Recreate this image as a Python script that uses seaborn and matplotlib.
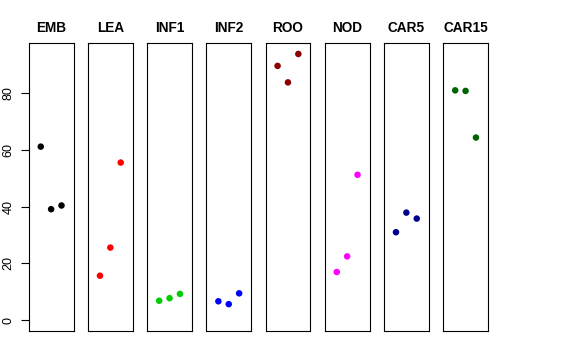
import numpy as np
import pandas as pd
import matplotlib
matplotlib.use('Agg')
import matplotlib.pyplot as plt
import seaborn as sns

# tissues and their three replicate values
tissues = ['EMB', 'LEA', 'INF1', 'INF2', 'ROO', 'NOD', 'CAR5', 'CAR15']
colors = ['black', 'red', '#00CD00', 'blue', '#8B0000', 'magenta', '#00008B', '#006400']
replicate = [1, 2, 3]

emb = [61.1, 39.1, 40.4]
lea = [15.7, 25.6, 55.5]
inf1 = [6.9, 7.8, 9.3]
inf2 = [6.7, 5.7, 9.5]
roo = [89.5, 83.7, 93.7]
nod = [17.0, 22.5, 51.2]
car5 = [31.0, 37.9, 35.8]
car15 = [80.9, 80.7, 64.3]

values = [emb, lea, inf1, inf2, roo, nod, car5, car15]

sns.set_style('white')
plt.rcParams['font.family'] = ['Liberation Sans', 'DejaVu Sans']
plt.rcParams['text.color'] = 'black'
plt.rcParams['ytick.color'] = 'black'
plt.rcParams['axes.labelcolor'] = 'black'

df = pd.DataFrame({
    'tissue': np.repeat(tissues, 3),
    'rep': replicate * len(tissues),
    'value': np.concatenate(values),
})

fig, axes = plt.subplots(1, 8, figsize=(5.76, 3.6), dpi=100, sharey=True)
fig.subplots_adjust(left=28.7 / 576, right=488 / 576, top=1 - 43.3 / 360,
                    bottom=1 - 331 / 360, wspace=0.32)

ymax = df['value'].max()
for ax, t, c in zip(axes, tissues, colors):
    sub = df[df['tissue'] == t]
    sns.scatterplot(data=sub, x='rep', y='value', color=c, s=22,
                    edgecolor='none', ax=ax, legend=False)
    ax.set_xlim(-0.16, 4.16)
    ax.set_ylim(-ymax * 0.04, ymax * 1.04)
    ax.set_title(t, fontsize=9.8, fontweight='bold', pad=8, color='black')
    ax.set_xticks([])
    ax.set_xlabel('')
    ax.set_ylabel('')
    for sp in ax.spines.values():
        sp.set_visible(True)
        sp.set_color('black')
        sp.set_linewidth(0.8)
    ax.tick_params(axis='y', left=False, labelleft=False)

axes[0].set_yticks([0, 20, 40, 60, 80])
axes[0].tick_params(axis='y', left=True, labelleft=True, length=5.5, width=0.8,
                    labelsize=9, color='black', labelcolor='black',
                    direction='out', pad=4.5)
for lab in axes[0].get_yticklabels():
    lab.set_rotation(90)
    lab.set_va('center')

fig.savefig('out.png', dpi=100)
